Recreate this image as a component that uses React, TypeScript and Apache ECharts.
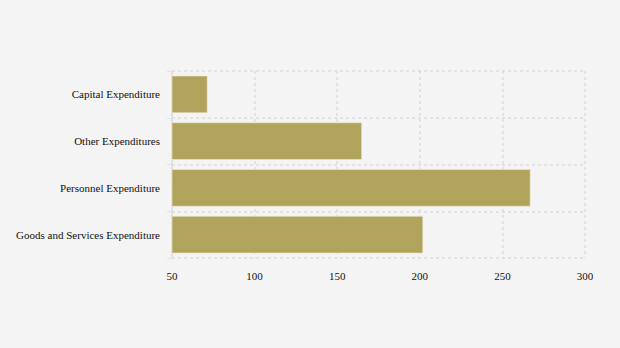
import React, { useEffect, useRef } from "react";
import * as echarts from "echarts";

const categories = [
  "Goods and Services Expenditure",
  "Personnel Expenditure",
  "Other Expenditures",
  "Capital Expenditure",
];
const values = [202, 267, 165, 71.5];
const xTicks = { min: 50, max: 300, interval: 50 };

const FONT = "serif";

export default function App() {
  const ref = useRef<HTMLDivElement>(null);
  useEffect(() => {
    document.body.style.margin = "0";
    const chart = echarts.init(ref.current!, null, { renderer: "svg" });
    chart.setOption({
      animation: false,
      backgroundColor: "#f4f4f4",
      textStyle: { fontFamily: FONT },
      grid: { left: 172, right: 35, top: 71, bottom: 90 },
      xAxis: {
        type: "value",
        min: xTicks.min,
        max: xTicks.max,
        interval: xTicks.interval,
        axisLine: { show: false },
        axisTick: { show: false },
        axisLabel: { color: "#111", fontSize: 11, fontFamily: FONT, margin: 12 },
        splitLine: { show: true, lineStyle: { color: "#dcdcdc", type: [3, 3], width: 1.5 } },
      },
      yAxis: {
        type: "category",
        data: categories,
        axisLine: { show: true, lineStyle: { color: "#dcdcdc", width: 1.5 } },
        axisTick: { show: true, length: 5, lineStyle: { color: "#e2e2e2" } },
        axisLabel: { color: "#111", fontSize: 11, fontFamily: FONT, margin: 12 },
        splitLine: { show: true, lineStyle: { color: "#dcdcdc", type: [3, 3], width: 1.5 } },
      },
      series: [
        {
          type: "bar",
          data: values,
          barCategoryGap: "20%",
          itemStyle: { color: "#b0a35c", borderColor: "#f0ecd8", borderWidth: 0.6 },
        },
      ],
    });
    return () => chart.dispose();
  }, []);
  return <div ref={ref} style={{ width: 620, height: 348 }} />;
}
